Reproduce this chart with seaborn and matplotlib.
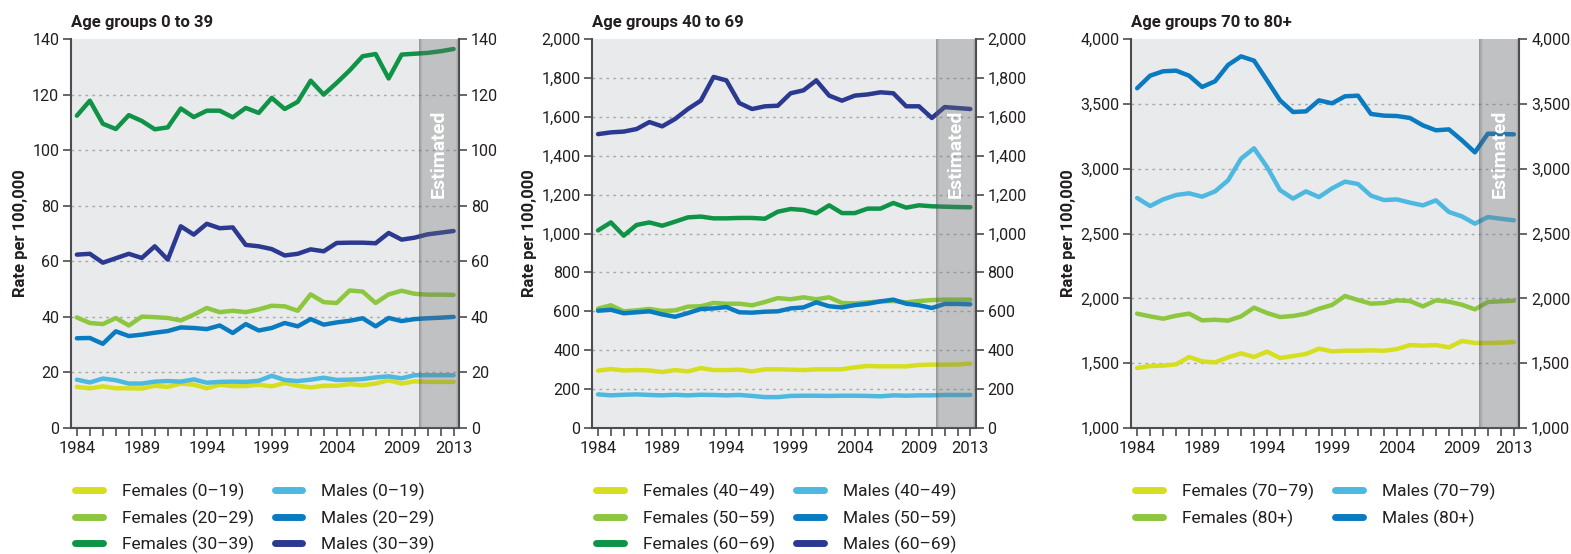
import numpy as np
import pandas as pd
import seaborn as sns
import matplotlib.pyplot as plt
from matplotlib.lines import Line2D
from matplotlib.ticker import FuncFormatter

years = list(range(1984, 2014))

# panel 1: ages 0-39
f_0_19 = [14.8, 14.3, 15.0, 14.3, 14.3, 14.2, 15.2, 14.8, 16.0, 15.6, 14.3, 15.6, 15.1, 15.1, 15.6,
          15.0, 16.2, 15.2, 14.6, 15.2, 15.2, 15.8, 15.4, 16.0, 17.2, 16.0, 16.8, 16.6, 16.6, 16.6]
f_20_29 = [39.8, 37.8, 37.4, 39.6, 36.9, 40.1, 39.9, 39.6, 38.7, 40.8, 43.2, 41.7, 42.2, 41.7, 42.7,
           44.0, 43.8, 42.2, 48.1, 45.3, 45.0, 49.5, 49.1, 45.0, 48.1, 49.4, 48.3, 48.0, 48.0, 47.9]
f_30_39 = [112.4, 117.8, 109.5, 107.6, 112.6, 110.5, 107.5, 108.2, 115.0, 111.9, 114.2, 114.2, 111.8,
           115.2, 113.4, 118.8, 114.8, 117.4, 125.0, 120.0, 124.2, 128.7, 133.8, 134.6, 125.8, 134.4,
           134.7, 135.0, 135.6, 136.4]
m_0_19 = [17.4, 16.4, 17.8, 17.2, 16.0, 16.0, 16.7, 16.9, 16.7, 17.5, 16.3, 16.6, 16.7, 16.6, 17.0,
          18.8, 17.3, 16.9, 17.4, 18.1, 17.3, 17.4, 17.6, 18.2, 18.6, 17.9, 19.0, 19.0, 19.0, 19.0]
m_20_29 = [32.3, 32.4, 30.3, 34.8, 33.1, 33.6, 34.3, 34.9, 36.2, 36.0, 35.6, 36.9, 34.2, 37.4, 35.1,
           36.0, 37.8, 36.6, 39.2, 37.2, 38.0, 38.6, 39.5, 36.6, 39.6, 38.5, 39.2, 39.5, 39.7, 40.0]
m_30_39 = [62.4, 62.7, 59.5, 61.1, 62.7, 61.2, 65.4, 60.6, 72.6, 69.6, 73.5, 71.9, 72.2, 65.9, 65.4,
           64.4, 62.1, 62.7, 64.3, 63.6, 66.6, 66.7, 66.7, 66.5, 70.2, 67.8, 68.5, 69.7, 70.3, 70.9]

# panel 2: ages 40-69
f_40_49 = [295, 303, 296, 298, 296, 288, 298, 291, 308, 298, 298, 300, 291, 302, 302,
           300, 298, 302, 302, 302, 312, 319, 317, 317, 317, 324, 326, 326, 327, 331]
f_50_59 = [614, 631, 600, 605, 612, 602, 605, 624, 626, 643, 639, 639, 631, 648, 668,
           662, 672, 662, 672, 643, 641, 646, 651, 653, 646, 653, 658, 660, 660, 660]
f_60_69 = [1016, 1057, 989, 1044, 1057, 1040, 1061, 1083, 1087, 1078, 1078, 1080, 1080, 1076, 1112,
           1126, 1121, 1104, 1145, 1105, 1105, 1128, 1128, 1157, 1133, 1145, 1140, 1138, 1136, 1135]
m_40_49 = [173, 168, 171, 173, 170, 168, 171, 168, 171, 170, 168, 170, 165, 159, 159,
           165, 166, 166, 165, 166, 166, 165, 163, 168, 166, 168, 168, 170, 170, 170]
m_50_59 = [603, 608, 590, 595, 600, 584, 572, 591, 612, 615, 622, 595, 593, 598, 600,
           615, 620, 646, 626, 620, 632, 639, 651, 660, 639, 631, 617, 638, 638, 636]
m_60_69 = [1511, 1520, 1524, 1537, 1573, 1551, 1589, 1640, 1683, 1805, 1787, 1671, 1640, 1654, 1657,
           1721, 1736, 1787, 1709, 1683, 1709, 1715, 1726, 1721, 1654, 1654, 1594, 1650, 1645, 1640]

# panel 3: ages 70-80+
f_70_79 = [1463, 1478, 1481, 1491, 1548, 1514, 1506, 1545, 1576, 1548, 1589, 1540, 1555, 1571, 1612,
           1591, 1596, 1596, 1599, 1596, 1609, 1640, 1635, 1640, 1622, 1671, 1656, 1656, 1658, 1663]
f_80 = [1882, 1861, 1843, 1866, 1882, 1830, 1835, 1828, 1861, 1928, 1887, 1856, 1864, 1882, 1920,
        1949, 2018, 1987, 1959, 1964, 1985, 1979, 1938, 1985, 1974, 1951, 1915, 1972, 1977, 1982]
m_70_79 = [2774, 2712, 2763, 2797, 2810, 2784, 2825, 2910, 3077, 3157, 3013, 2835, 2769, 2825, 2781,
           2848, 2900, 2882, 2792, 2758, 2763, 2738, 2717, 2756, 2666, 2632, 2576, 2627, 2614, 2602]
m_80 = [3620, 3717, 3751, 3756, 3717, 3630, 3674, 3800, 3866, 3833, 3681, 3527, 3437, 3442, 3527,
        3504, 3558, 3563, 3422, 3409, 3406, 3391, 3334, 3296, 3303, 3219, 3126, 3270, 3267, 3265]

xtick_labels = [1984, 1989, 1994, 1999, 2004, 2009, 2013]
titles = ['Age groups 0 to 39', 'Age groups 40 to 69', 'Age groups 70 to 80+']

yellow, lgreen, dgreen = '#d5df1f', '#8dc63f', '#0f9347'
lblue, blue, navy = '#4db8e0', '#0b7bc1', '#2b3990'

panels = [
    {'series': [('Females (0–19)', f_0_19, yellow), ('Females (20–29)', f_20_29, lgreen),
                ('Females (30–39)', f_30_39, dgreen), ('Males (0–19)', m_0_19, lblue),
                ('Males (20–29)', m_20_29, blue), ('Males (30–39)', m_30_39, navy)],
     'ylim': (0, 140), 'step': 20},
    {'series': [('Females (40–49)', f_40_49, yellow), ('Females (50–59)', f_50_59, lgreen),
                ('Females (60–69)', f_60_69, dgreen), ('Males (40–49)', m_40_49, lblue),
                ('Males (50–59)', m_50_59, blue), ('Males (60–69)', m_60_69, navy)],
     'ylim': (0, 2000), 'step': 200},
    {'series': [('Females (70–79)', f_70_79, yellow), ('Females (80+)', f_80, lgreen),
                ('Males (70–79)', m_70_79, lblue), ('Males (80+)', m_80, blue)],
     'ylim': (1000, 4000), 'step': 500},
]

sns.set_theme(style='white')
plt.rcParams['font.family'] = ['Roboto', 'DejaVu Sans']

fig = plt.figure(figsize=(15.71, 5.54), dpi=100)
lefts = [0.0452, 0.3770, 0.7201]
widths = [0.2470, 0.2441, 0.2470]
spine_c = '#4d4d4f'
txt_c = '#231f20'
x0, x1 = 1983.55, 2013.42
est = 2010.35

for i, p in enumerate(panels):
    ax = fig.add_axes([lefts[i], 0.2274, widths[i], 0.7022])
    ax.set_facecolor('#e9eaeb')
    names = [s[0] for s in p['series']]
    df = pd.DataFrame({
        'year': years * len(names),
        'rate': np.concatenate([s[1] for s in p['series']]),
        'series': np.repeat(names, len(years)),
    })
    pal = {s[0]: s[2] for s in p['series']}
    sns.lineplot(data=df, x='year', y='rate', hue='series', hue_order=names, palette=pal,
                 lw=3.2, legend=False, ax=ax, zorder=2)

    # estimated band
    ax.axvspan(est, x1, color='#6d6e71', alpha=0.33, lw=0, zorder=3)
    for k in range(6):
        a = 0.3 * (1 - k / 6)
        ax.axvspan(est + k * 0.04, est + (k + 1) * 0.04, color='#414042', alpha=a, lw=0, zorder=3)
        ax.axvspan(x1 - (k + 1) * 0.04, x1 - k * 0.04, color='#414042', alpha=a * 0.8, lw=0, zorder=3)
    ax.text((est + x1) / 2, 0.705, 'Estimated', transform=ax.get_xaxis_transform(), rotation=90,
            ha='center', va='center', color='white', fontsize=14, fontweight='bold', zorder=4)

    lo, hi = p['ylim']
    ax.set_xlim(x0, x1)
    ax.set_ylim(lo, hi)
    ax.set_yticks(np.arange(lo, hi + 1, p['step']))
    if hi >= 1000:
        ax.yaxis.set_major_formatter(FuncFormatter(lambda v, _: f'{int(v):,}'))
    ax.set_xticks(years)
    ax.set_xticklabels([str(y) if y in xtick_labels else '' for y in years])
    ax.grid(axis='y', color='#a7a9ac', linestyle=(0, (2, 3)), lw=1)
    ax.grid(axis='x', visible=False)
    ax.tick_params(axis='y', left=True, right=True, labelleft=True, labelright=True,
                   direction='out', length=6, width=1.2, color=spine_c, labelsize=11.5,
                   labelcolor=txt_c, pad=2.5)
    ax.tick_params(axis='x', bottom=True, direction='out', length=6, width=1.2, color=spine_c,
                   labelsize=12, labelcolor=txt_c, pad=3)
    gl = ax.yaxis.get_gridlines()
    gl[0].set_visible(False)
    gl[-1].set_visible(False)
    for side in ['left', 'right', 'bottom']:
        ax.spines[side].set_color(spine_c)
        ax.spines[side].set_linewidth(1.5)
    ax.spines['top'].set_visible(False)

    ax.set_xlabel('')
    ax.set_ylabel('Rate per 100,000', fontsize=12, fontweight='bold', color=txt_c, labelpad=3)
    ax.set_title(titles[i], loc='left', fontsize=12, fontweight='bold', color=txt_c, pad=9)

    handles = [Line2D([], [], color=s[2], lw=5) for s in p['series']]
    ax.legend(handles, names, loc='upper left', bbox_to_anchor=(0.01, -0.14), ncol=2,
              frameon=False, fontsize=12.5, handlelength=1.6, handletextpad=1.1,
              columnspacing=1.2, labelspacing=0.55, borderpad=0, borderaxespad=0,
              labelcolor=txt_c)

fig.savefig('out.png', dpi=100)
